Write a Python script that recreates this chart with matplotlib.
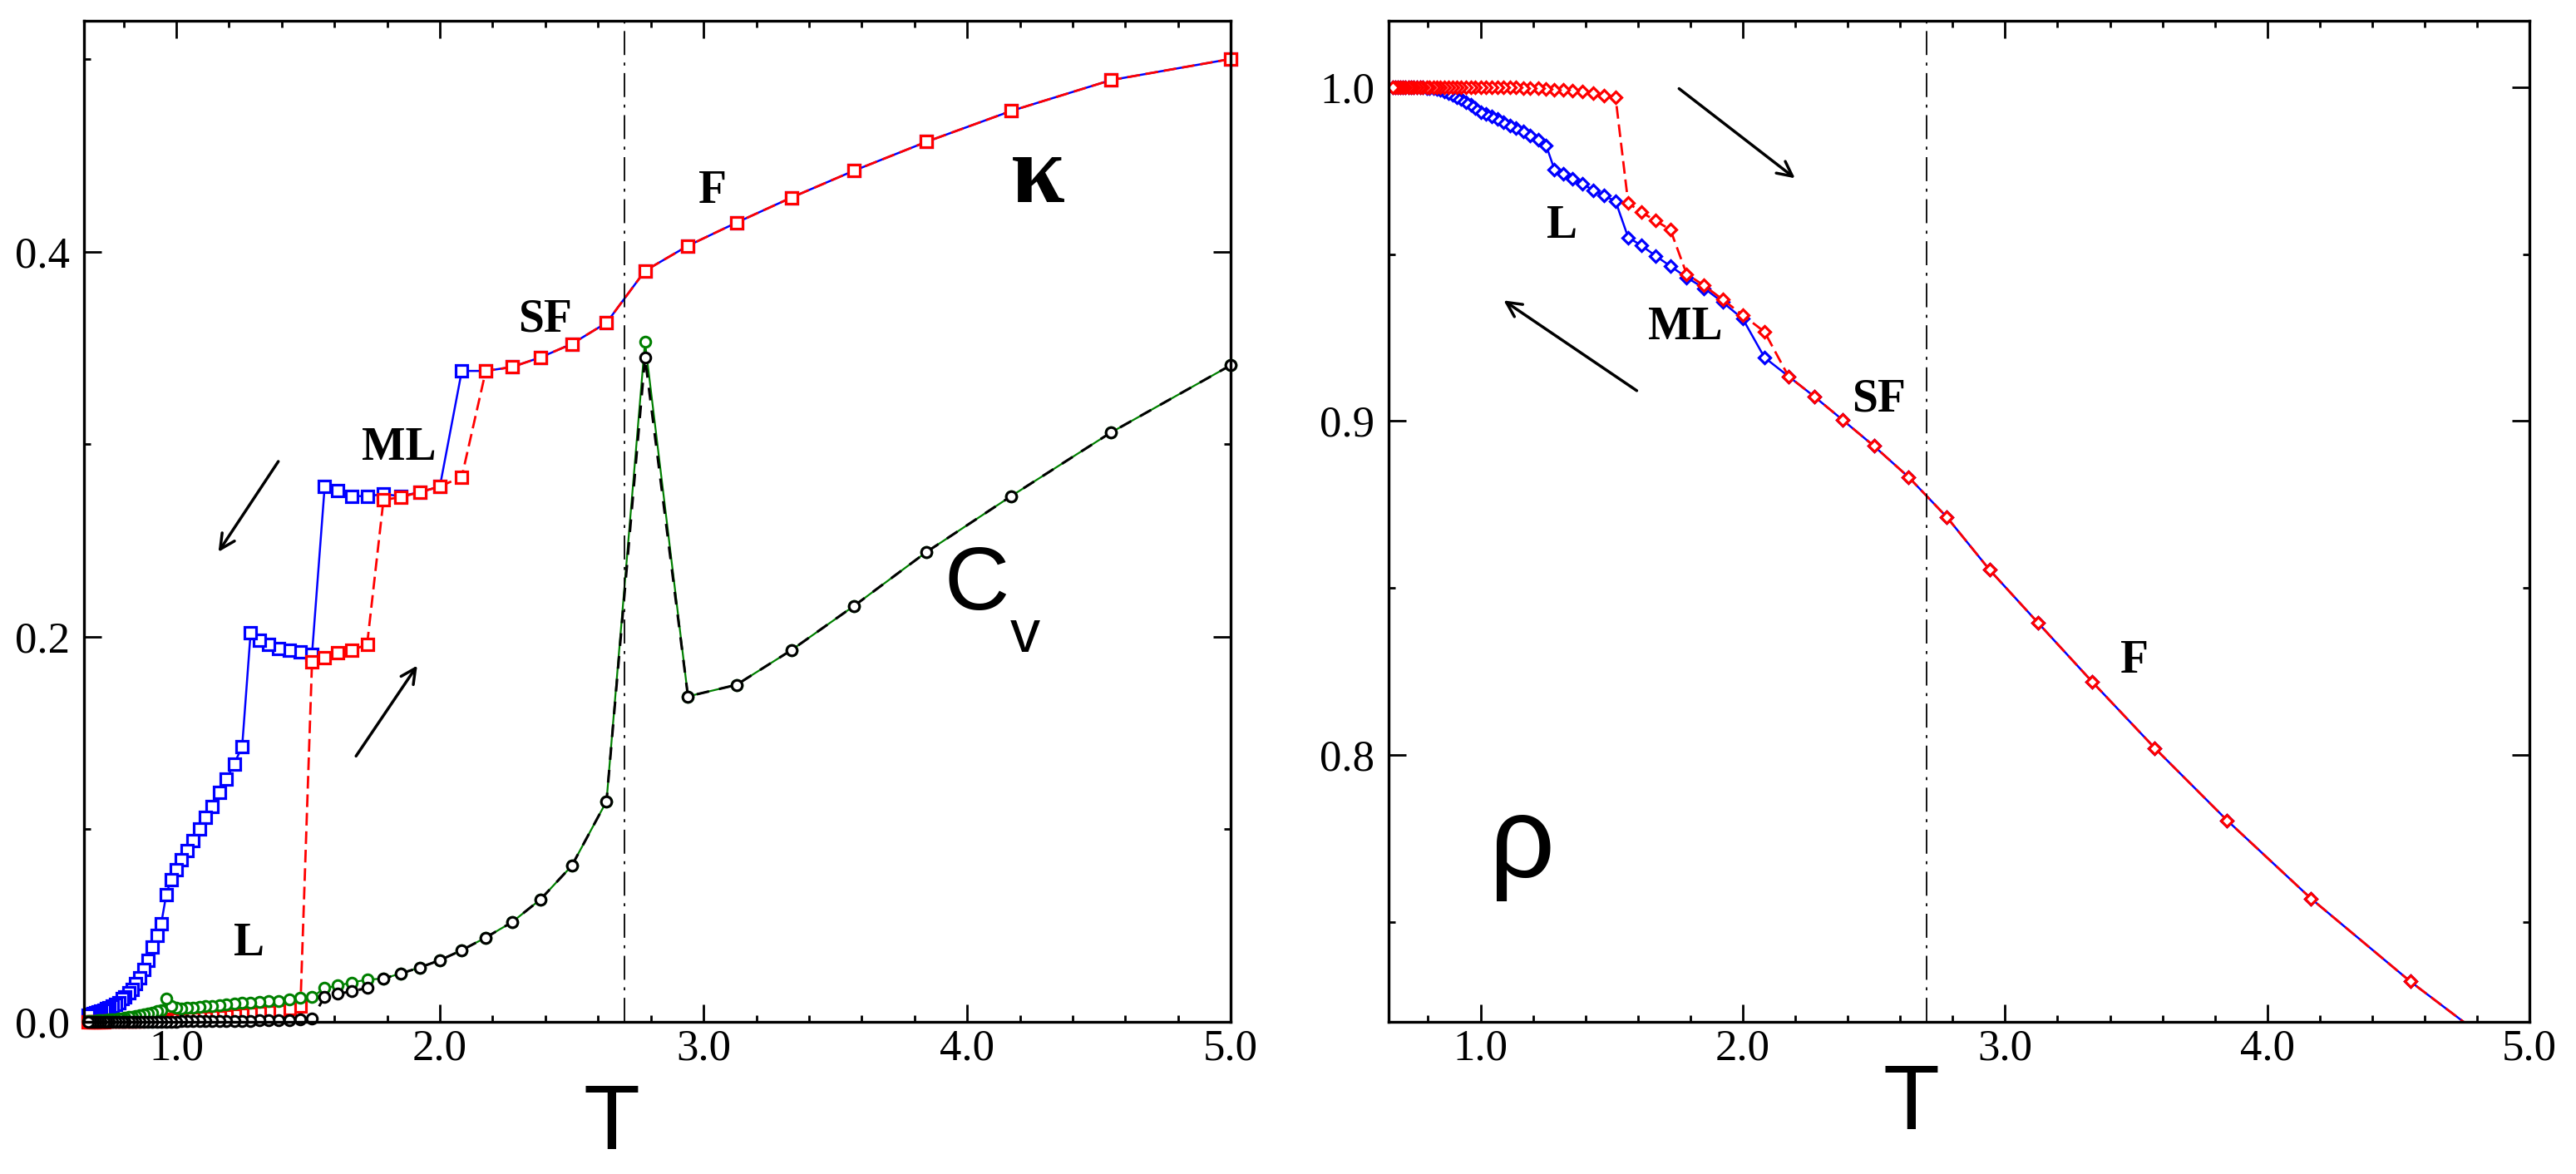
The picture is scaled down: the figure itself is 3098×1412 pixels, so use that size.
import matplotlib
matplotlib.use('Agg')
import matplotlib.pyplot as plt
from matplotlib.ticker import MultipleLocator, FormatStrFormatter

# temperature grid, high T -> low T
T = [5.000, 4.545, 4.167, 3.846, 3.571, 3.333, 3.125, 2.941, 2.778, 2.632,
     2.500, 2.381, 2.273, 2.174, 2.083, 2.000, 1.923, 1.852, 1.786, 1.724,
     1.667, 1.613, 1.563, 1.515, 1.471, 1.429, 1.389, 1.351, 1.316, 1.282,
     1.250, 1.220, 1.190, 1.163, 1.136, 1.111, 1.087, 1.064, 1.042, 1.020,
     1.000, 0.980, 0.962, 0.943, 0.926, 0.909, 0.893, 0.877, 0.862, 0.847,
     0.833, 0.820, 0.806, 0.794, 0.781, 0.769, 0.758, 0.746, 0.735, 0.725,
     0.714, 0.704, 0.694, 0.685, 0.676, 0.667]

# kappa, cooling (blue) and heating (red)
kappa_cool = [0.500, 0.489, 0.473, 0.457, 0.442, 0.428, 0.415, 0.403, 0.390, 0.363,
              0.352, 0.345, 0.340, 0.338, 0.338, 0.278, 0.275, 0.273, 0.274, 0.273,
              0.273, 0.276, 0.278, 0.191, 0.192, 0.193, 0.194, 0.196, 0.198, 0.202,
              0.143, 0.134, 0.126, 0.119, 0.112, 0.106, 0.100, 0.094, 0.089, 0.084,
              0.079, 0.074, 0.066, 0.051, 0.045, 0.039, 0.032, 0.027, 0.023, 0.020,
              0.017, 0.015, 0.013, 0.012, 0.010, 0.009, 0.008, 0.0074, 0.0067, 0.0062,
              0.0057, 0.0052, 0.0048, 0.0044, 0.0040, 0.0036]
kappa_heat = [0.500, 0.489, 0.473, 0.457, 0.442, 0.428, 0.415, 0.403, 0.390, 0.363,
              0.352, 0.345, 0.340, 0.338, 0.283, 0.278, 0.275, 0.2725, 0.271, 0.196,
              0.193, 0.1915, 0.189, 0.187, 0.0081, 0.0069, 0.0058, 0.0051, 0.0046, 0.0042,
              0.0038, 0.0035, 0.0031, 0.0028, 0.0026, 0.0023, 0.0021, 0.0018, 0.0016, 0.0014,
              0.0012, 0.0011, 0.0010, 0.0009, 0.0009, 0.0008, 0.0007, 0.0007, 0.0006, 0.0006,
              0.0005, 0.0005, 0.0004, 0.0004, 0.0004, 0.0003, 0.0003, 0.0003, 0.0003, 0.0002,
              0.0002, 0.0002, 0.0002, 0.0002, 0.0002, 0.0002]

# specific heat, black and green runs
cv_black = [0.341, 0.306, 0.273, 0.244, 0.216, 0.193, 0.175, 0.169, 0.345, 0.1145,
            0.081, 0.0635, 0.0517, 0.0438, 0.0372, 0.032, 0.0282, 0.0251, 0.0225, 0.0176,
            0.0159, 0.0145, 0.0131, 0.0017, 0.0012, 0.0010, 0.0009, 0.0008, 0.0007, 0.0006,
            0.0006, 0.0005, 0.0005, 0.0004, 0.0004, 0.0004, 0.0003, 0.0003, 0.0003, 0.0003,
            0.0002, 0.0002, 0.0002, 0.0002, 0.0002, 0.0002, 0.0002, 0.0002, 0.0002, 0.0002,
            0.0002, 0.0002, 0.0002, 0.0001, 0.0001, 0.0001, 0.0001, 0.0001, 0.0001, 0.0001,
            0.0001, 0.0001, 0.0001, 0.0001, 0.0001, 0.0001]
cv_green = [0.341, 0.306, 0.273, 0.244, 0.216, 0.193, 0.175, 0.169, 0.353, 0.1145,
            0.081, 0.0635, 0.0517, 0.0438, 0.0372, 0.032, 0.0282, 0.0251, 0.0225, 0.0219,
            0.0205, 0.0188, 0.0176, 0.0128, 0.0124, 0.0116, 0.0110, 0.0106, 0.0102, 0.0100,
            0.0099, 0.0095, 0.0090, 0.0086, 0.0082, 0.0080, 0.0079, 0.0075, 0.0072, 0.0070,
            0.0072, 0.0080, 0.0120, 0.0062, 0.0055, 0.0048, 0.0043, 0.0038, 0.0034, 0.0030,
            0.0027, 0.0024, 0.0021, 0.0019, 0.0017, 0.0015, 0.0013, 0.0012, 0.0010, 0.0009,
            0.0008, 0.0007, 0.0006, 0.0005, 0.0005, 0.0004]

# density, cooling (blue) and heating (red)
rho_cool = [0.705, 0.7321, 0.7569, 0.7804, 0.8020, 0.8218, 0.8396, 0.8554, 0.8712, 0.8832,
            0.8925, 0.9003, 0.9073, 0.9134, 0.9190, 0.9306, 0.9356, 0.9398, 0.9430, 0.9464,
            0.9495, 0.9526, 0.9550, 0.9658, 0.9675, 0.9692, 0.9710, 0.9725, 0.9740, 0.9753,
            0.9826, 0.9842, 0.9856, 0.9868, 0.9878, 0.9886, 0.9895, 0.9904, 0.9913, 0.9919,
            0.9926, 0.9937, 0.9947, 0.9956, 0.9964, 0.9971, 0.9977, 0.9983, 0.9988, 0.9991,
            0.9994, 0.9996, 0.9997, 0.9998, 0.9999, 0.9999, 1.0, 1.0, 1.0, 1.0,
            1.0, 1.0, 1.0, 1.0, 1.0, 1.0]
rho_heat = [0.705, 0.7321, 0.7569, 0.7804, 0.8020, 0.8218, 0.8396, 0.8554, 0.8712, 0.8832,
            0.8925, 0.9003, 0.9073, 0.9134, 0.9267, 0.9317, 0.9364, 0.9406, 0.9440, 0.9573,
            0.9600, 0.9626, 0.9653, 0.9969, 0.9975, 0.9981, 0.9986, 0.9989, 0.9991, 0.9993,
            0.9995, 0.9996, 0.9997, 0.9998, 0.9999, 1.0, 1.0, 1.0, 1.0, 1.0,
            1.0, 1.0, 1.0, 1.0, 1.0, 1.0, 1.0, 1.0, 1.0, 1.0,
            1.0, 1.0, 1.0, 1.0, 1.0, 1.0, 1.0, 1.0, 1.0, 1.0,
            1.0, 1.0, 1.0, 1.0, 1.0, 1.0]

T_c = 2.70

serif = ['Liberation Serif', 'DejaVu Serif']
narrow = ['Liberation Sans Narrow', 'Liberation Sans', 'DejaVu Sans']

plt.rcParams['font.family'] = serif
plt.rcParams['xtick.labelsize'] = 38
plt.rcParams['ytick.labelsize'] = 38

fig = plt.figure(figsize=(30.98, 14.12), dpi=100)
ax1 = fig.add_axes([0.0326, 0.1296, 0.4452, 0.8530])
ax2 = fig.add_axes([0.5391, 0.1296, 0.4429, 0.8530])

########################################################################################################################
# left panel: kappa and C_v
ax1.plot(T, kappa_cool, '-', color='blue', lw=1.8, marker='s', ms=10, mfc='white', mec='blue', mew=2.3, clip_on=False)
ax1.plot(T, kappa_heat, '--', color='red', lw=2.0, dashes=(5.5, 2.5), marker='s', ms=10, mfc='white', mec='red', mew=2.3, clip_on=False)
ax1.plot(T, cv_green, '-', color='green', lw=1.6, marker='o', ms=9, mfc='white', mec='green', mew=2.2, clip_on=False)
ax1.plot(T, cv_black, '--', color='black', lw=2.2, dashes=(5, 4), marker='o', ms=9, mfc='white', mec='black', mew=2.2, clip_on=False)
ax1.axvline(T_c, color='black', lw=1.3, dashes=(16, 5, 2, 5))

ax1.annotate('', xy=(1.155, 0.243), xytext=(1.392, 0.292),
             arrowprops=dict(arrowstyle='->', lw=2.5, color='black', mutation_scale=32))
ax1.annotate('', xy=(1.919, 0.186), xytext=(1.677, 0.137),
             arrowprops=dict(arrowstyle='->', lw=2.5, color='black', mutation_scale=32))

ax1.text(3.033, 0.4315, 'F', fontsize=40, fontweight='bold', ha='center', va='center')
ax1.text(2.398, 0.3647, 'SF', fontsize=40, fontweight='bold', ha='center', va='center')
ax1.text(1.846, 0.298, 'ML', fontsize=40, fontweight='bold', ha='center', va='center')
ax1.text(1.275, 0.0404, 'L', fontsize=40, fontweight='bold', ha='center', va='center')
ax1.text(4.27, 0.4378, 'κ', fontsize=84, fontweight='bold', ha='center', va='center')
ax1.text(4.035, 0.2262, 'C', fontsize=78, family=narrow, ha='center', va='center')
ax1.text(4.22, 0.2000, 'v', fontsize=52, family=narrow, ha='center', va='center')

ax1.set_xlim(0.65, 5.0)
ax1.set_ylim(0.0, 0.52)
ax1.yaxis.set_major_locator(MultipleLocator(0.2))
ax1.yaxis.set_minor_locator(MultipleLocator(0.1))

########################################################################################################################
# right panel: rho
ax2.plot(T, rho_cool, '-', color='blue', lw=1.8, marker='D', ms=7, mfc='white', mec='blue', mew=2.3)
ax2.plot(T, rho_heat, '--', color='red', lw=2.0, dashes=(5.5, 2.5), marker='D', ms=7, mfc='white', mec='red', mew=2.3)
ax2.axvline(T_c, color='black', lw=1.3, dashes=(16, 5, 2, 5))

ax2.annotate('', xy=(2.206, 0.9723), xytext=(1.75, 1.0),
             arrowprops=dict(arrowstyle='->', lw=2.5, color='black', mutation_scale=32))
ax2.annotate('', xy=(1.081, 0.9365), xytext=(1.603, 0.9087),
             arrowprops=dict(arrowstyle='->', lw=2.5, color='black', mutation_scale=32))

ax2.text(1.311, 0.9584, 'L', fontsize=40, fontweight='bold', ha='center', va='center')
ax2.text(1.781, 0.9279, 'ML', fontsize=40, fontweight='bold', ha='center', va='center')
ax2.text(2.517, 0.9065, 'SF', fontsize=40, fontweight='bold', ha='center', va='center')
ax2.text(3.493, 0.8282, 'F', fontsize=40, fontweight='bold', ha='center', va='center')
ax2.text(1.157, 0.7722, 'ρ', fontsize=100, family=narrow, ha='center', va='center')

ax2.set_xlim(0.65, 5.0)
ax2.set_ylim(0.72, 1.02)
ax2.yaxis.set_major_locator(MultipleLocator(0.1))
ax2.yaxis.set_minor_locator(MultipleLocator(0.05))

#settings
for ax in [ax1, ax2]:
    ax.xaxis.set_major_locator(MultipleLocator(1.0))
    ax.xaxis.set_minor_locator(MultipleLocator(0.2))
    ax.xaxis.set_major_formatter(FormatStrFormatter('%.1f'))
    ax.yaxis.set_major_formatter(FormatStrFormatter('%.1f'))
    ax.tick_params(which='both', direction='in', top=True, right=True, width=2.0)
    ax.tick_params(which='major', length=15)
    ax.tick_params(which='minor', length=6)
    ax.tick_params(axis='x', which='major', pad=6)
    ax.tick_params(axis='y', which='major', pad=12)
    for sp in ax.spines.values():
        sp.set_linewidth(2.4)
    ax.set_xlabel('T', fontsize=80, family=narrow)

ax1.xaxis.set_label_coords(0.46, -0.060)
ax2.xaxis.set_label_coords(0.458, -0.040)

plt.savefig('out.png', dpi=100)
